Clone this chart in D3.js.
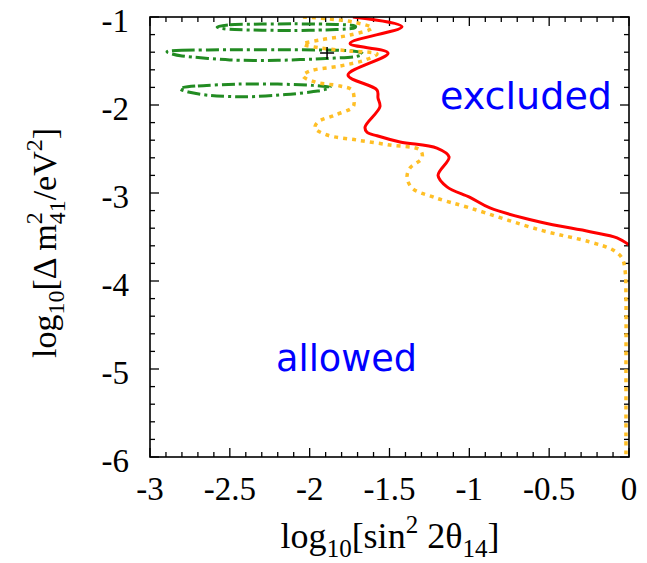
<!DOCTYPE html>
<html><head><meta charset="utf-8">
<script src="https://cdn.jsdelivr.net/npm/d3@7"></script>
<style>body{margin:0;background:#fff}svg{display:block}</style>
</head><body>
<script>
// ---- data ----
const xTicks = [-3, -2.5, -2, -1.5, -1, -0.5, 0];
const xTickLabels = ["-3", "-2.5", "-2", "-1.5", "-1", "-0.5", "0"];
const yTicks = [-1, -2, -3, -4, -5, -6];
const yTickLabels = ["-1", "-2", "-3", "-4", "-5", "-6"];

// solid red exclusion curve [log10 sin^2 2θ, log10 Δm^2]
const redCurve = [
  [-1.729,-1.00],[-1.422,-1.11],[-1.747,-1.30],[-1.509,-1.41],[-1.760,-1.66],
  [-1.578,-1.83],[-1.572,-1.92],[-1.560,-2.02],[-1.653,-2.25],[-1.641,-2.31],
  [-1.578,-2.35],[-1.434,-2.42],[-1.203,-2.49],[-1.127,-2.59],[-1.196,-2.80],
  [-1.140,-2.93],[-0.996,-3.05],[-0.871,-3.17],[-0.557,-3.33],[-0.244,-3.44],
  [-0.075,-3.51],[0.0,-3.59]
];
// dotted orange curve
const orangeCurve = [
  [-2.042,-1.000],[-1.873,-1.023],[-1.729,-1.057],[-1.610,-1.125],[-1.747,-1.205],
  [-1.935,-1.261],[-2.042,-1.307],[-1.935,-1.352],[-1.747,-1.386],[-1.578,-1.420],
  [-1.653,-1.489],[-1.810,-1.557],[-1.998,-1.614],[-2.042,-1.670],[-1.967,-1.739],
  [-1.810,-1.784],[-1.735,-1.830],[-1.722,-1.943],[-1.729,-2.023],[-1.841,-2.114],
  [-1.948,-2.193],[-1.967,-2.261],[-1.891,-2.341],[-1.704,-2.398],[-1.497,-2.455],
  [-1.309,-2.511],[-1.296,-2.602],[-1.372,-2.716],[-1.390,-2.818],[-1.359,-2.943],
  [-1.228,-3.045],[-0.996,-3.170],[-0.557,-3.420],[-0.244,-3.557],[-0.100,-3.648],
  [-0.044,-3.739],[-0.025,-3.875],[-0.019,-4.216],[-0.019,-5.000],[-0.019,-6.000]
];
// green dash-dot allowed-region contours
const contourTop = [
  [-2.58,-1.115],[-2.50,-1.088],[-2.30,-1.080],[-2.10,-1.078],[-1.90,-1.081],[-1.74,-1.093],
  [-1.712,-1.11],[-1.74,-1.132],[-1.90,-1.147],[-2.10,-1.153],[-2.30,-1.150],[-2.50,-1.140]
];
const contourMid = [
  [-2.894,-1.395],[-2.80,-1.378],[-2.50,-1.372],[-2.20,-1.372],[-1.90,-1.375],[-1.72,-1.388],
  [-1.668,-1.42],[-1.72,-1.452],[-1.90,-1.472],[-2.20,-1.492],[-2.50,-1.488],[-2.80,-1.442]
];
const contourBot = [
  [-2.812,-1.81],[-2.70,-1.783],[-2.45,-1.762],[-2.20,-1.762],[-1.98,-1.777],[-1.870,-1.80],
  [-1.95,-1.842],[-2.15,-1.882],[-2.40,-1.907],[-2.62,-1.892],[-2.76,-1.852]
];
const bestFit = [-1.891, -1.41];

// ---- layout ----
const W = 647, H = 563;
const L = 150, R = 629, T = 17, B = 457;
const svg = d3.select("body").append("svg").attr("width", W).attr("height", H);
const x = d3.scaleLinear().domain([-3, 0]).range([L, R]);
const y = d3.scaleLinear().domain([-6, -1]).range([B, T]);

const serif = "'Liberation Serif','Times New Roman',serif";

// ticks (inward on all 4 sides)
const xMinor = d3.range(-3, 0.0001, 0.1).map(v => +v.toFixed(2));
const yMinor = d3.range(-6, -0.9999, 0.2).map(v => +v.toFixed(2));
const g = svg.append("g").attr("stroke", "#000").attr("stroke-width", 1.3);
xMinor.forEach(v => {
  const major = xTicks.some(t => Math.abs(t - v) < 1e-6);
  const len = major ? 9 : 5;
  g.append("line").attr("x1", x(v)).attr("x2", x(v)).attr("y1", B).attr("y2", B - len);
  g.append("line").attr("x1", x(v)).attr("x2", x(v)).attr("y1", T).attr("y2", T + len);
});
yMinor.forEach(v => {
  const major = yTicks.some(t => Math.abs(t - v) < 1e-6);
  const len = major ? 9 : 5;
  g.append("line").attr("y1", y(v)).attr("y2", y(v)).attr("x1", L).attr("x2", L + len);
  g.append("line").attr("y1", y(v)).attr("y2", y(v)).attr("x1", R).attr("x2", R - len);
});

// curves
const smooth = d3.line().x(d => x(d[0])).y(d => y(d[1])).curve(d3.curveCatmullRom.alpha(0.5));
const closed = d3.line().x(d => x(d[0])).y(d => y(d[1])).curve(d3.curveCardinalClosed.tension(0.2));

svg.append("clipPath").attr("id", "clip").append("rect")
  .attr("x", L).attr("y", T).attr("width", R - L).attr("height", B - T);
const plot = svg.append("g").attr("clip-path", "url(#clip)");

[contourTop, contourMid, contourBot].forEach(c => {
  plot.append("path").attr("d", closed(c)).attr("fill", "none")
    .attr("stroke", "#228b22").attr("stroke-width", 3)
    .attr("stroke-dasharray", "13,4,3,4");
});
plot.append("path").attr("d", smooth(orangeCurve)).attr("fill", "none")
  .attr("stroke", "#ffbf26").attr("stroke-width", 3.5).attr("stroke-dasharray", "4,5");
plot.append("path").attr("d", smooth(redCurve)).attr("fill", "none")
  .attr("stroke", "#ff0000").attr("stroke-width", 3);

// best fit +
const bx = x(bestFit[0]), by = y(bestFit[1]);
svg.append("path").attr("d", `M${bx-7},${by}H${bx+7}M${bx},${by-6}V${by+6}`)
  .attr("stroke", "#000").attr("stroke-width", 1.5);

// frame
svg.append("rect").attr("x", L).attr("y", T).attr("width", R - L).attr("height", B - T)
  .attr("fill", "none").attr("stroke", "#000").attr("stroke-width", 1.6);

// tick labels
svg.append("g").selectAll("text").data(xTicks).join("text")
  .attr("x", d => x(d)).attr("y", 500).attr("text-anchor", "middle")
  .attr("font-family", serif).attr("font-size", 33)
  .text((d, i) => xTickLabels[i]);
svg.append("g").selectAll("text").data(yTicks).join("text")
  .attr("x", 129).attr("y", d => y(d) + 15).attr("text-anchor", "end")
  .attr("font-family", serif).attr("font-size", 33)
  .text((d, i) => yTickLabels[i]);

// x title
const xt = svg.append("text").attr("x", 390).attr("y", 548).attr("text-anchor", "middle")
  .attr("font-family", serif).attr("font-size", 36);
xt.append("tspan").text("log");
xt.append("tspan").attr("font-size", 25).attr("dy", 9).text("10");
xt.append("tspan").attr("dy", -9).text("[sin");
xt.append("tspan").attr("font-size", 25).attr("dy", -15).text("2");
xt.append("tspan").attr("dy", 15).text(" 2θ");
xt.append("tspan").attr("font-size", 25).attr("dy", 9).text("14");
xt.append("tspan").attr("dy", -9).text("]");

// y title
const yt = svg.append("text").attr("transform", "translate(56,243) rotate(-90)")
  .attr("text-anchor", "middle").attr("font-family", serif).attr("font-size", 34);
yt.append("tspan").text("log");
yt.append("tspan").attr("font-size", 24).attr("dy", 8).text("10");
yt.append("tspan").attr("dy", -8).text("[Δ m");
yt.append("tspan").attr("font-size", 24).attr("dy", -14).text("2");
yt.append("tspan").attr("font-size", 24).attr("dx", -12).attr("dy", 23).text("41");
yt.append("tspan").attr("dy", -9).text("/eV");
yt.append("tspan").attr("font-size", 24).attr("dy", -14).text("2");
yt.append("tspan").attr("dy", 14).text("]");

// region labels
const comic = "'Comic Sans MS','DejaVu Sans',sans-serif";
svg.append("text").attr("x", 440).attr("y", 109).attr("font-family", comic)
  .attr("font-size", 38).attr("fill", "#0000ff").attr("textLength", 172)
  .attr("lengthAdjust", "spacingAndGlyphs").text("excluded");
svg.append("text").attr("x", 276).attr("y", 371).attr("font-family", comic)
  .attr("font-size", 38).attr("fill", "#0000ff").attr("textLength", 141)
  .attr("lengthAdjust", "spacingAndGlyphs").text("allowed");
</script>
</body></html>
